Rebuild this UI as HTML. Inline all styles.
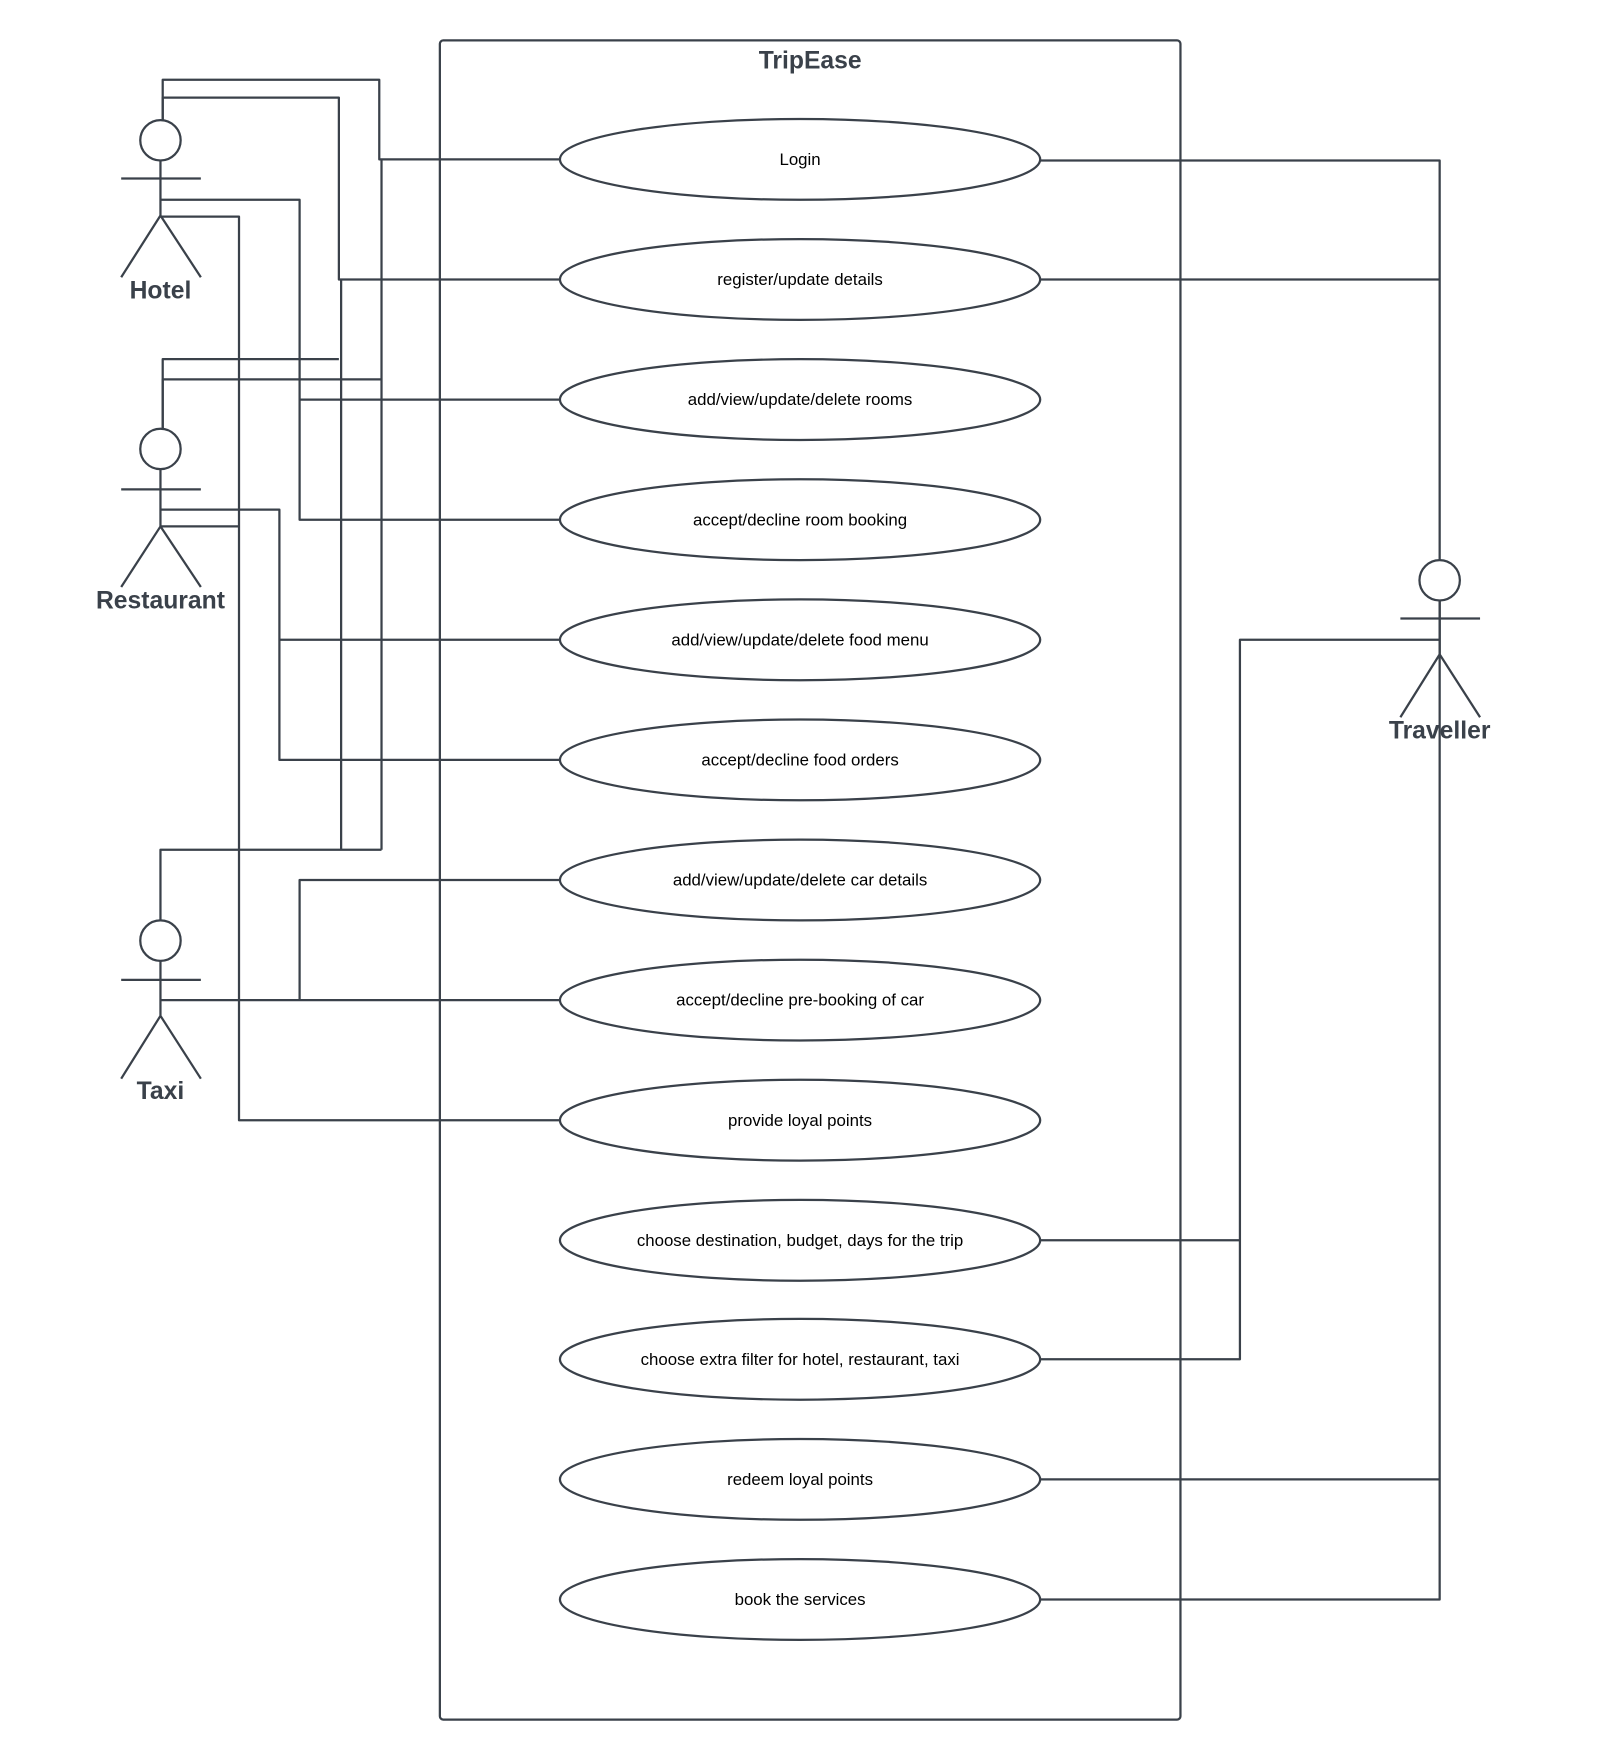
<!DOCTYPE html>
<html><head><meta charset="utf-8"><style>
html,body{margin:0;padding:0;background:#fff;}
svg{display:block;}
</style></head><body>
<svg width="1599" height="1760" viewBox="0 0 1425 1568" preserveAspectRatio="none" xmlns="http://www.w3.org/2000/svg">
<g fill="none" stroke="#3a414a" stroke-width="2" stroke-linejoin="round">
<rect x="392" y="36" width="660" height="1496" rx="3"/>
<polyline points="145,107 145,71 338,71 338,142 499,142"/>
<polyline points="145,107 145,87 302,87 302,249 499,249"/>
<polyline points="143,178 267,178 267,463 499,463"/>
<polyline points="267,356 499,356"/>
<polyline points="143,193 213,193 213,998 499,998"/>
<polyline points="145,382 145,320 302,320"/>
<polyline points="145,382 145,338 340,338"/>
<polyline points="340,142 340,757"/>
<polyline points="304,249 304,757"/>
<polyline points="143,454 249,454 249,677 499,677"/>
<polyline points="249,570 499,570"/>
<polyline points="143,469 213,469"/>
<polyline points="143,820 143,757 340,757"/>
<polyline points="143,891 499,891"/>
<polyline points="267,891 267,784 499,784"/>
<polyline points="927,143 1283,143 1283,1425 927,1425"/>
<polyline points="927,249 1283,249"/>
<polyline points="927,1318 1283,1318"/>
<polyline points="1283,570 1105,570 1105,1211 927,1211"/>
<polyline points="927,1105 1105,1105"/>
<g fill="#fff">
<ellipse cx="143" cy="125" rx="18" ry="18"/>
<ellipse cx="143" cy="400" rx="18" ry="18"/>
<ellipse cx="143" cy="838" rx="18" ry="18"/>
<ellipse cx="1283" cy="517" rx="18" ry="18"/>
</g>
<path d="M108 159H179M143 143V192M108 247L143 192L179 247"/>
<path d="M108 436H179M143 418V469M108 523L143 469L179 523"/>
<path d="M108 873H179M143 856V905M108 961L143 905L179 961"/>
<path d="M1248 551H1319M1283 535V583M1248 639L1283 583L1319 639"/>
<g fill="#fff">
<ellipse cx="713" cy="142" rx="214" ry="36"/>
<ellipse cx="713" cy="249" rx="214" ry="36"/>
<ellipse cx="713" cy="356" rx="214" ry="36"/>
<ellipse cx="713" cy="463" rx="214" ry="36"/>
<ellipse cx="713" cy="570" rx="214" ry="36"/>
<ellipse cx="713" cy="677" rx="214" ry="36"/>
<ellipse cx="713" cy="784" rx="214" ry="36"/>
<ellipse cx="713" cy="891" rx="214" ry="36"/>
<ellipse cx="713" cy="998" rx="214" ry="36"/>
<ellipse cx="713" cy="1105" rx="214" ry="36"/>
<ellipse cx="713" cy="1211" rx="214" ry="36"/>
<ellipse cx="713" cy="1318" rx="214" ry="36"/>
<ellipse cx="713" cy="1425" rx="214" ry="36"/>
</g>
</g>
<g font-family="Liberation Sans, sans-serif" text-anchor="middle">
<text x="722" y="61" font-size="22" font-weight="bold" fill="#3a414a">TripEase</text>
<g font-size="22" font-weight="bold" fill="#3a414a">
<text x="143" y="266">Hotel</text>
<text x="143" y="542">Restaurant</text>
<text x="143" y="979">Taxi</text>
<text x="1283" y="658">Traveller</text>
</g>
<g font-size="15" fill="#000">
<text x="713" y="147">Login</text>
<text x="713" y="254">register/update details</text>
<text x="713" y="361">add/view/update/delete rooms</text>
<text x="713" y="468">accept/decline room booking</text>
<text x="713" y="575">add/view/update/delete food menu</text>
<text x="713" y="682">accept/decline food orders</text>
<text x="713" y="789">add/view/update/delete car details</text>
<text x="713" y="896">accept/decline pre-booking of car</text>
<text x="713" y="1003">provide loyal points</text>
<text x="713" y="1110">choose destination, budget, days for the trip</text>
<text x="713" y="1216">choose extra filter for hotel, restaurant, taxi</text>
<text x="713" y="1323">redeem loyal points</text>
<text x="713" y="1430">book the services</text>
</g>
</g>
</svg>
</body></html>
